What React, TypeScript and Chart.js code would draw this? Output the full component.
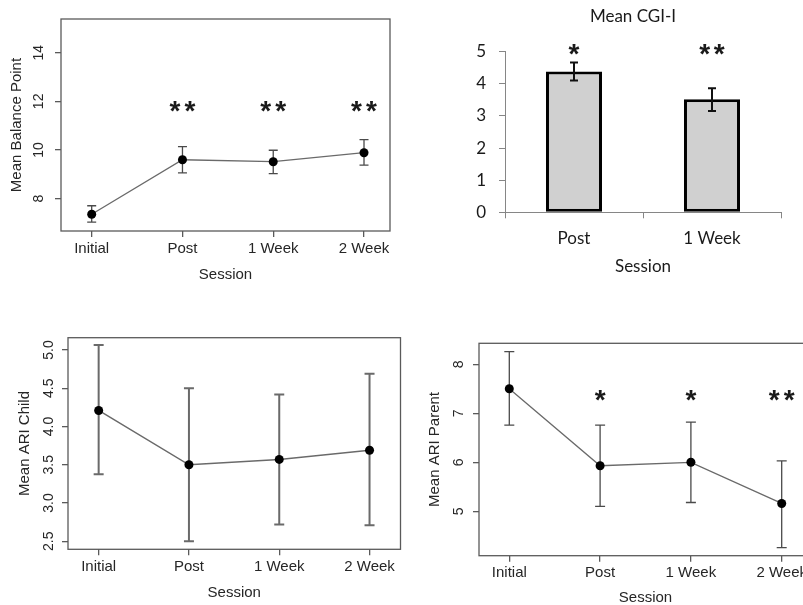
import React, { useEffect, useRef } from 'react';
import { Chart, registerables } from 'chart.js';

Chart.register(...registerables);

// ---------------- data ----------------
const sessions4 = ['Initial', 'Post', '1 Week', '2 Week'];
const sessions2 = ['Post', '1 Week'];

const balanceMean = [7.36, 9.6, 9.52, 9.89];
const balanceLow = [7.04, 9.06, 9.03, 9.38];
const balanceHigh = [7.71, 10.14, 9.99, 10.43];
const balanceStars = ['', '**', '**', '**'];
const balanceTicks = [8, 10, 12, 14];

const cgiMean = [4.38, 3.52];
const cgiLow = [4.1, 3.15];
const cgiHigh = [4.66, 3.86];
const cgiStars = ['*', '**'];
const cgiTicks = [0, 1, 2, 3, 4, 5];

const childMean = [4.21, 3.5, 3.57, 3.69];
const childLow = [3.375, 2.5, 2.72, 2.71];
const childHigh = [5.065, 4.5, 4.42, 4.69];
const childStars = ['', '', '', ''];
const childTicks = [2.5, 3.0, 3.5, 4.0, 4.5, 5.0];

const parentMean = [7.5, 5.93, 6.0, 5.16];
const parentLow = [6.76, 5.1, 5.18, 4.26];
const parentHigh = [8.26, 6.76, 6.82, 6.03];
const parentStars = ['', '*', '*', '**'];
const parentTicks = [5, 6, 7, 8];

// ---------------- styles ----------------
const R_FONT = '"Liberation Sans", Arial, Helvetica, sans-serif';
const X_FONT = 'Lato, "Open Sans", sans-serif';
const R_TEXT = '#262626';
const R_BOX = '#5a5a5a';

function drawStars(ctx: CanvasRenderingContext2D, cx: number, cy: number, text: string, font: string, sp: number) {
  if (!text) return;
  ctx.save();
  ctx.font = font;
  ctx.fillStyle = '#1a1a1a';
  ctx.textAlign = 'center';
  ctx.textBaseline = 'alphabetic';
  const m = ctx.measureText('*');
  const asc = m.actualBoundingBoxAscent;
  const desc = m.actualBoundingBoxDescent;
  const base = cy + (asc - desc) / 2;
  const n = text.length;
  for (let i = 0; i < n; i++) ctx.fillText('*', cx + (i - (n - 1) / 2) * sp, base);
  ctx.restore();
}

interface RPanel {
  w: number; h: number;
  area: [number, number, number, number];
  xMin: number; xMax: number; yMin: number; yMax: number;
  yTicks: number[]; yDec: number; yTitle: string;
  mean: number[]; low: number[]; high: number[]; stars: string[]; starY: number;
  yTickLabelX: number; yTitleX: number; xLabelY: number; xTitleY: number;
  errColor: string; errWidth: number; capHalf: number; lineColor: string; lineWidth: number;
}

function makeRConfig(p: RPanel): any {
  const [l, t, r, b] = p.area;
  const plugin = {
    id: 'rpanel',
    beforeDatasetsDraw(chart: any) {
      const ctx = chart.ctx as CanvasRenderingContext2D;
      const xs = chart.scales.x, ys = chart.scales.y;
      ctx.save();
      ctx.strokeStyle = p.errColor;
      ctx.lineWidth = p.errWidth;
      p.mean.forEach((_, i) => {
        const x = xs.getPixelForValue(i + 1);
        const y1 = ys.getPixelForValue(p.low[i]);
        const y2 = ys.getPixelForValue(p.high[i]);
        ctx.beginPath();
        ctx.moveTo(x, y1); ctx.lineTo(x, y2);
        ctx.moveTo(x - p.capHalf, y1); ctx.lineTo(x + p.capHalf, y1);
        ctx.moveTo(x - p.capHalf, y2); ctx.lineTo(x + p.capHalf, y2);
        ctx.stroke();
      });
      ctx.restore();
    },
    afterDraw(chart: any) {
      const ctx = chart.ctx as CanvasRenderingContext2D;
      const a = chart.chartArea;
      const xs = chart.scales.x, ys = chart.scales.y;
      ctx.save();
      ctx.strokeStyle = R_BOX;
      ctx.lineWidth = 1.3;
      ctx.strokeRect(a.left, a.top, a.right - a.left, a.bottom - a.top);
      ctx.fillStyle = R_TEXT;
      ctx.font = `14px ${R_FONT}`;
      ctx.textAlign = 'center';
      ctx.textBaseline = 'middle';
      p.yTicks.forEach((v) => {
        const y = ys.getPixelForValue(v);
        ctx.save();
        ctx.translate(p.yTickLabelX, y);
        ctx.rotate(-Math.PI / 2);
        ctx.fillText(v.toFixed(p.yDec), 0, 0);
        ctx.restore();
      });
      ctx.restore();
      p.stars.forEach((s, i) => {
        drawStars(ctx, xs.getPixelForValue(i + 1), ys.getPixelForValue(p.starY), s, `bold 28px ${R_FONT}`, 15);
      });
    },
  };
  return {
    type: 'line',
    data: {
      datasets: [{
        data: p.mean.map((v, i) => ({ x: i + 1, y: v })),
        borderColor: p.lineColor,
        borderWidth: p.lineWidth,
        pointRadius: 4.5,
        pointBackgroundColor: '#000',
        pointBorderColor: '#000',
        pointBorderWidth: 0,
        tension: 0,
        fill: false,
      }],
    },
    options: {
      animation: false,
      responsive: false,
      devicePixelRatio: 1,
      events: [],
      layout: { padding: { left: 0, top: t, right: p.w - r, bottom: 0 } },
      plugins: { legend: { display: false }, tooltip: { enabled: false }, title: { display: false } },
      scales: {
        x: {
          type: 'linear',
          min: p.xMin,
          max: p.xMax,
          afterBuildTicks: (s: any) => { s.ticks = sessions4.map((_, i) => ({ value: i + 1 })); },
          afterFit: (s: any) => { s.height = p.h - b; s.paddingLeft = 0; s.paddingRight = 0; },
          ticks: {
            callback: (_v: any, i: number) => sessions4[i],
            font: { family: R_FONT, size: 15 },
            color: R_TEXT,
            padding: p.xLabelY - b - 6 - 9,
            autoSkip: false,
            maxRotation: 0,
            minRotation: 0,
          },
          grid: { drawOnChartArea: false, drawTicks: true, tickLength: 6, color: R_BOX, lineWidth: 1.3 },
          border: { display: false },
          title: {
            display: true, text: 'Session', color: R_TEXT,
            font: { family: R_FONT, size: 15 },
            padding: { top: 0, bottom: p.h - p.xTitleY - 9 },
          },
        },
        y: {
          type: 'linear',
          min: p.yMin,
          max: p.yMax,
          afterBuildTicks: (s: any) => { s.ticks = p.yTicks.map((v) => ({ value: v })); },
          afterFit: (s: any) => { s.width = l; s.paddingTop = 0; s.paddingBottom = 0; },
          ticks: { display: false },
          grid: { drawOnChartArea: false, drawTicks: true, tickLength: 6, color: R_BOX, lineWidth: 1.3 },
          border: { display: false },
          title: {
            display: true, text: p.yTitle, color: R_TEXT,
            font: { family: R_FONT, size: 15 },
            padding: { top: p.yTitleX - 9, bottom: 0 },
          },
        },
      },
    },
    plugins: [plugin],
  };
}

function makeBarConfig(): any {
  const w = 403, h = 300;
  const l = 105, t = 51.7, r = 381, b = 212.3;
  const plugin = {
    id: 'excelbar',
    afterDatasetsDraw(chart: any) {
      const ctx = chart.ctx as CanvasRenderingContext2D;
      const xs = chart.scales.x, ys = chart.scales.y;
      ctx.save();
      ctx.strokeStyle = '#111';
      ctx.lineWidth = 2;
      cgiMean.forEach((_, i) => {
        const x = xs.getPixelForValue(i);
        const y1 = ys.getPixelForValue(cgiLow[i]);
        const y2 = ys.getPixelForValue(cgiHigh[i]);
        ctx.beginPath();
        ctx.moveTo(x, y1); ctx.lineTo(x, y2);
        ctx.moveTo(x - 4, y1); ctx.lineTo(x + 4, y1);
        ctx.moveTo(x - 4, y2); ctx.lineTo(x + 4, y2);
        ctx.stroke();
      });
      ctx.restore();
      cgiStars.forEach((s, i) => {
        drawStars(ctx, xs.getPixelForValue(i), ys.getPixelForValue(5.06), s, `bold 28px ${R_FONT}`, 14.5);
      });
      ctx.save();
      ctx.fillStyle = '#1a1a1a';
      ctx.font = `17px ${X_FONT}`;
      ctx.textAlign = 'center';
      ctx.textBaseline = 'middle';
      ctx.fillText('Mean CGI-I', 233, 17);
      ctx.restore();
    },
  };
  return {
    type: 'bar',
    data: {
      labels: sessions2,
      datasets: [{
        data: cgiMean,
        backgroundColor: '#d0d0d0',
        borderColor: '#000',
        borderWidth: 3,
        borderSkipped: false,
        barPercentage: 0.406,
        categoryPercentage: 1,
      }],
    },
    options: {
      animation: false,
      responsive: false,
      devicePixelRatio: 1,
      events: [],
      layout: { padding: { left: 0, top: t, right: w - r, bottom: 0 } },
      plugins: { legend: { display: false }, tooltip: { enabled: false }, title: { display: false } },
      scales: {
        x: {
          afterFit: (s: any) => { s.height = h - b; s.paddingLeft = 0; s.paddingRight = 0; },
          ticks: { font: { family: X_FONT, size: 17 }, color: '#1a1a1a', padding: 238.3 - b - 6 - 10.2 },
          grid: { drawOnChartArea: false, drawTicks: true, tickLength: 6, color: '#868686', offset: true },
          border: { display: true, color: '#868686', width: 1 },
          title: {
            display: true, text: 'Session', color: '#1a1a1a',
            font: { family: X_FONT, size: 17 },
            padding: { top: 0, bottom: h - 267 - 10.2 },
          },
        },
        y: {
          min: 0,
          max: 5,
          afterBuildTicks: (s: any) => { s.ticks = cgiTicks.map((v) => ({ value: v })); },
          afterFit: (s: any) => { s.width = l; s.paddingTop = 0; s.paddingBottom = 0; },
          ticks: { font: { family: X_FONT, size: 17 }, color: '#1a1a1a', padding: 13 },
          grid: { drawOnChartArea: false, drawTicks: true, tickLength: 6, color: '#868686' },
          border: { display: true, color: '#868686', width: 1 },
        },
      },
    },
    plugins: [plugin],
  };
}

const panel1: RPanel = {
  w: 400, h: 300, area: [61, 19, 390, 231],
  xMin: 0.6618, xMax: 4.2864, yMin: 6.672, yMax: 15.385,
  yTicks: balanceTicks, yDec: 0, yTitle: 'Mean Balance Point',
  mean: balanceMean, low: balanceLow, high: balanceHigh, stars: balanceStars, starY: 11.77,
  yTickLabelX: 39, yTitleX: 17, xLabelY: 249, xTitleY: 275,
  errColor: '#4a4a4a', errWidth: 1.3, capHalf: 4.5, lineColor: '#6a6a6a', lineWidth: 1.3,
};

const panel3: RPanel = {
  w: 405, h: 305, area: [68, 37.7, 401, 249.3],
  xMin: 0.6605, xMax: 4.3429, yMin: 2.3955, yMax: 5.161,
  yTicks: childTicks, yDec: 1, yTitle: 'Mean ARI Child',
  mean: childMean, low: childLow, high: childHigh, stars: childStars, starY: 5,
  yTickLabelX: 49, yTitleX: 25, xLabelY: 266.7, xTitleY: 292.7,
  errColor: '#6a6a6a', errWidth: 2, capHalf: 5, lineColor: '#6a6a6a', lineWidth: 1.5,
};

const panel4: RPanel = {
  w: 420, h: 320, area: [79, 43.3, 412, 255.7],
  xMin: 0.6663, xMax: 4.3337, yMin: 4.0939, yMax: 8.4286,
  yTicks: parentTicks, yDec: 0, yTitle: 'Mean ARI Parent',
  mean: parentMean, low: parentLow, high: parentHigh, stars: parentStars, starY: 7.37,
  yTickLabelX: 59, yTitleX: 35, xLabelY: 272.7, xTitleY: 297.7,
  errColor: '#4a4a4a', errWidth: 1.3, capHalf: 5, lineColor: '#6a6a6a', lineWidth: 1.3,
};

function ChartBox(props: { left: number; top: number; width: number; height: number; make: () => any }) {
  const ref = useRef<HTMLCanvasElement | null>(null);
  useEffect(() => {
    if (!ref.current) return;
    const chart = new Chart(ref.current, props.make());
    return () => chart.destroy();
  }, []);
  return (
    <div style={{ position: 'absolute', left: props.left, top: props.top, width: props.width, height: props.height }}>
      <canvas ref={ref} width={props.width} height={props.height} style={{ width: props.width, height: props.height, display: 'block' }} />
    </div>
  );
}

export default function App() {
  return (
    <div style={{ position: 'absolute', left: 0, top: 0, width: 803, height: 605, overflow: 'hidden', background: '#fff' }}>
      <ChartBox left={0} top={0} width={400} height={300} make={() => makeRConfig(panel1)} />
      <ChartBox left={400} top={0} width={403} height={300} make={() => makeBarConfig()} />
      <ChartBox left={0} top={300} width={405} height={305} make={() => makeRConfig(panel3)} />
      <ChartBox left={400} top={300} width={420} height={320} make={() => makeRConfig(panel4)} />
    </div>
  );
}
